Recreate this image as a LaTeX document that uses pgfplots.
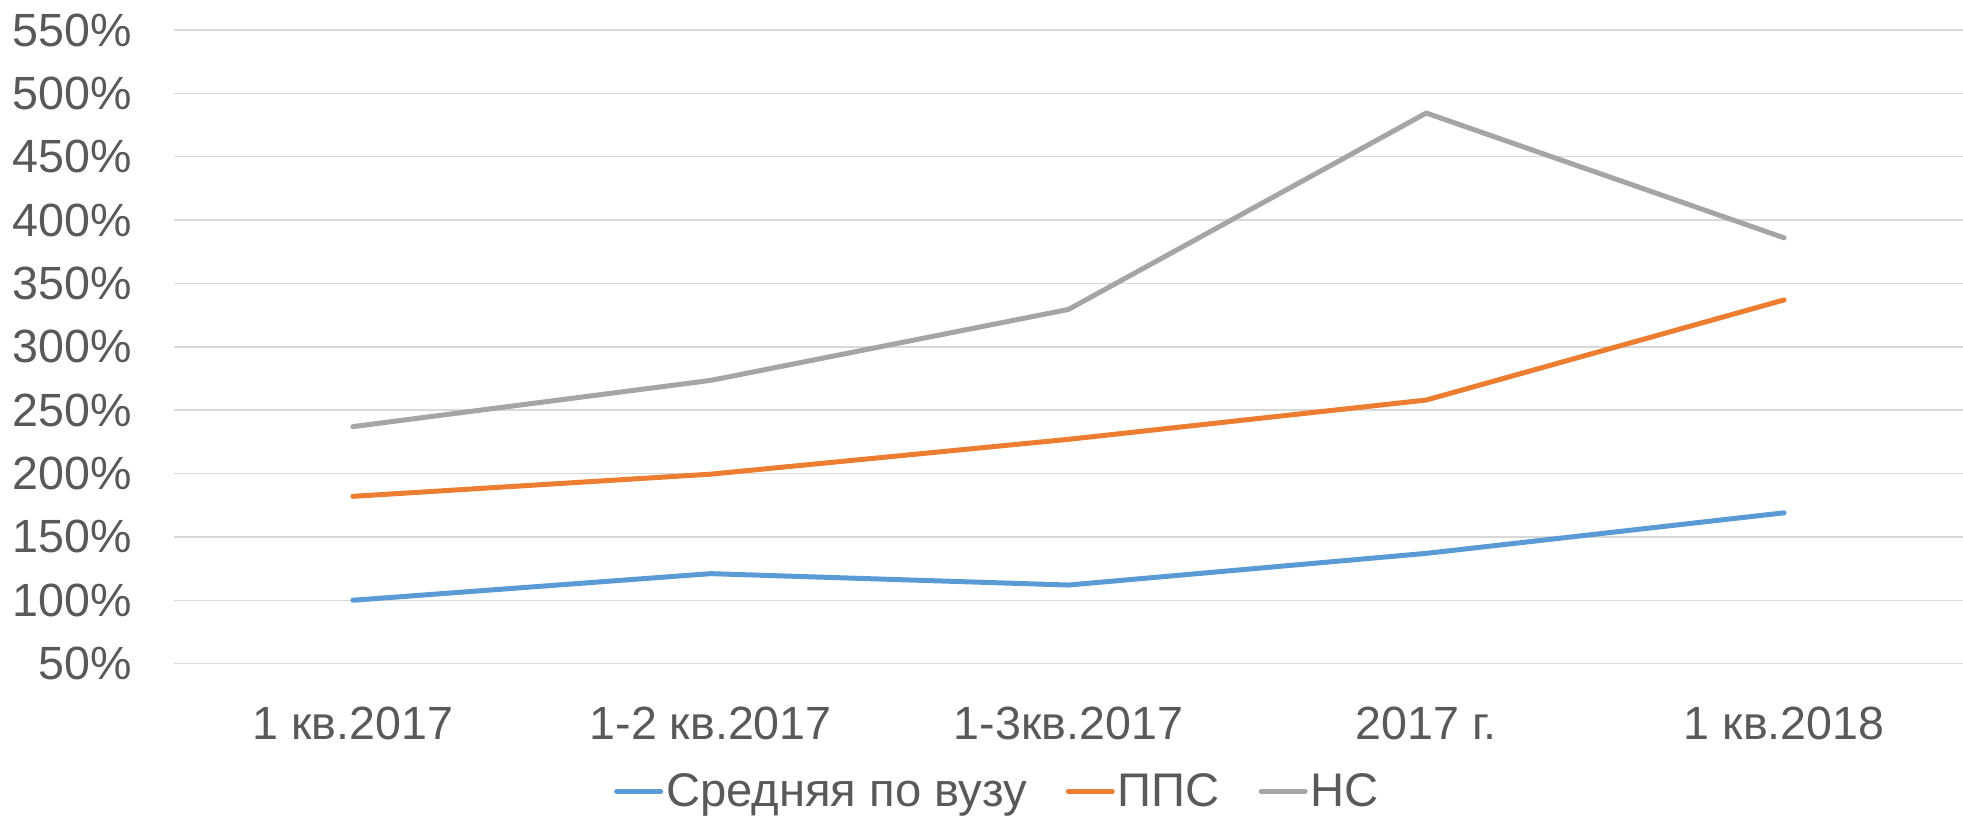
\documentclass[border=0pt]{standalone}
\usepackage{pgfplots}
\pgfplotsset{compat=1.18}
\usepackage{fontspec}
\setmainfont{Liberation Sans}
\definecolor{cblue}{HTML}{5B9BD5}
\definecolor{corange}{HTML}{ED7D31}
\definecolor{cgray}{HTML}{A5A5A5}
\definecolor{cgrid}{HTML}{D9D9D9}
\definecolor{ctext}{HTML}{595959}
\begin{document}
\begin{tikzpicture}
\begin{axis}[
  at={(0,0)}, anchor=south west,
  scale only axis,
  width=894.5pt, height=316.8pt,
  xmin=-0.5, xmax=4.5,
  ymin=50, ymax=550,
  xtick={0,1,2,3,4},
  xticklabels={1 кв.2017, 1-2 кв.2017, 1-3кв.2017, 2017 г., 1 кв.2018},
  ytick={50,100,...,550},
  yticklabel={\pgfmathparse{int(round(\tick))}\pgfmathresult\%},
  axis line style={draw=none},
  tick style={draw=none},
  major tick length=0pt,
  ymajorgrids,
  major grid style={cgrid, line width=0.75pt},
  ticklabel style={font=\fontsize{23.3}{28}\selectfont, text=ctext},
  yticklabel style={anchor=east, inner sep=0pt, xshift=-21pt},
  xticklabel style={anchor=base, inner sep=0pt, yshift=-37.7pt},
  legend style={at={(0.4606,-0.202)}, anchor=center, draw=none, fill=none,
    font=\fontsize{23.6}{28}\selectfont, text=ctext,
    legend columns=-1,
    /tikz/every even column/.append style={column sep=18pt},
    nodes={inner sep=1.5pt}},
  legend image code/.code={\draw[#1, line width=2.5pt, line cap=round] (0pt,0pt) -- (22pt,0pt);},
]
\addplot[cblue, line width=2.5pt, line cap=round, line join=round] coordinates {(0,100) (1,121) (2,112) (3,137) (4,169)};
\addlegendentry{Средняя по вузу}
\addplot[corange, line width=2.5pt, line cap=round, line join=round] coordinates {(0,182) (1,199.5) (2,227) (3,258) (4,337)};
\addlegendentry{ППС}
\addplot[cgray, line width=2.5pt, line cap=round, line join=round] coordinates {(0,237) (1,273.5) (2,329.5) (3,484.5) (4,386)};
\addlegendentry{НС}
\end{axis}
\pgfresetboundingbox
\path[use as bounding box] (-87pt,-78.7pt) rectangle (894.5pt,331.8pt);
\end{tikzpicture}
\end{document}
